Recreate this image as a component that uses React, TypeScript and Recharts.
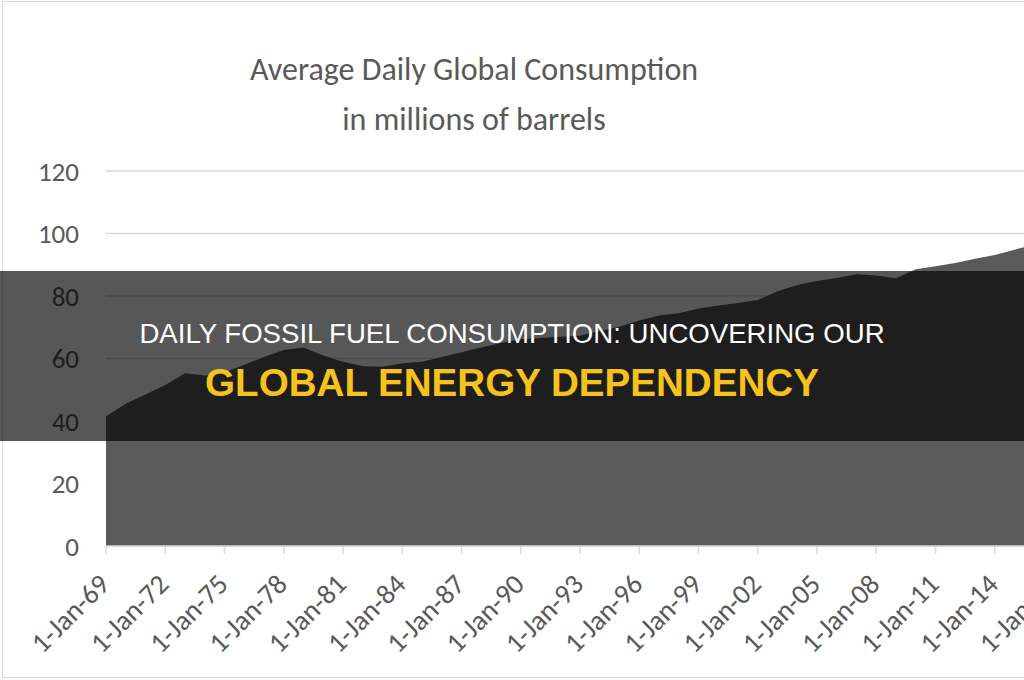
import React from 'react';
import { AreaChart, Area, XAxis, YAxis, CartesianGrid } from 'recharts';

// annual average daily consumption, millions of barrels
const years = [
  1969, 1970, 1971, 1972, 1973, 1974, 1975, 1976, 1977, 1978,
  1979, 1980, 1981, 1982, 1983, 1984, 1985, 1986, 1987, 1988,
  1989, 1990, 1991, 1992, 1993, 1994, 1995, 1996, 1997, 1998,
  1999, 2000, 2001, 2002, 2003, 2004, 2005, 2006, 2007, 2008,
  2009, 2010, 2011, 2012, 2013, 2014, 2015, 2016,
];
const consumption = [
  41.5, 45.5, 48.5, 51.5, 55.3, 54.6, 55.5, 58.0, 60.5, 62.7,
  63.5, 61.0, 59.0, 57.5, 57.4, 58.5, 59.0, 60.5, 62.0, 63.5,
  65.0, 66.2, 66.6, 67.0, 67.3, 68.8, 70.2, 72.2, 73.8, 74.5,
  76.0, 77.0, 77.8, 78.7, 81.5, 83.5, 84.8, 85.8, 87.0, 86.6,
  85.7, 88.6, 89.5, 90.6, 91.9, 93.1, 94.8, 96.5,
];
const xTicks = [1969, 1972, 1975, 1978, 1981, 1984, 1987, 1990, 1993, 1996, 1999, 2002, 2005, 2008, 2011, 2014, 2017];
const yTicks = [0, 20, 40, 60, 80, 100, 120];

const titleLines = ['Average Daily Global Consumption', 'in millions of barrels'];
const bannerTop = 'DAILY FOSSIL FUEL CONSUMPTION: UNCOVERING OUR';
const bannerBottom = 'GLOBAL ENERGY DEPENDENCY';

const data = years.map((y, i) => ({ year: y, value: consumption[i] }));

const FONT = 'Carlito, Calibri, Lato, sans-serif';
const GREY = '#595959';

const yearLabel = (y: number) => `1-Jan-${String(y % 100).padStart(2, '0')}`;

const XTick = (props: any) => {
  const { x, y, payload } = props;
  const ax = x + 5;
  const ay = y + 30;
  return (
    <text
      x={ax}
      y={ay}
      transform={`rotate(-45 ${ax} ${ay})`}
      textAnchor="end"
      fill={GREY}
      fontSize={28}
      fontFamily={FONT}
    >
      {yearLabel(payload.value)}
    </text>
  );
};

export default function App() {
  return (
    <div style={{ position: 'absolute', left: 0, top: 0, width: 1024, height: 680, overflow: 'hidden', background: '#fff' }}>
      {/* chart frame */}
      <div style={{ position: 'absolute', left: 2, top: 1, width: 1100, height: 675, border: '1.5px solid #d9d9d9' }} />
      <div style={{ position: 'absolute', left: 0, top: 0 }}>
        <AreaChart
          width={1060}
          height={680}
          data={data}
          margin={{ top: 171, right: 6, left: 0, bottom: 0 }}
        >
          <CartesianGrid vertical={false} stroke="#d9d9d9" strokeWidth={1.5} />
          <XAxis
            dataKey="year"
            type="number"
            domain={[1969, 2017]}
            ticks={xTicks}
            interval={0}
            height={134}
            stroke="#d9d9d9"
            strokeWidth={1.5}
            tickSize={8}
            tick={<XTick />}
          />
          <YAxis
            domain={[0, 120]}
            ticks={yTicks}
            width={106}
            axisLine={false}
            tickLine={false}
            tickSize={0}
            tickMargin={27}
            tick={{ fill: GREY, fontSize: 27, fontFamily: FONT }}
          />
          <Area
            type="linear"
            dataKey="value"
            stroke="none"
            fill="#5a5a5a"
            fillOpacity={1}
            isAnimationActive={false}
          />
        </AreaChart>
      </div>
      <svg width={1024} height={680} style={{ position: 'absolute', left: 0, top: 0, pointerEvents: 'none' }}>
        <text x={474} y={80} textAnchor="middle" fill={GREY} fontSize={32} fontFamily={FONT}>
          {titleLines[0]}
        </text>
        <text x={474} y={130} textAnchor="middle" fill={GREY} fontSize={32} fontFamily={FONT}>
          {titleLines[1]}
        </text>
        <rect x={0} y={271} width={1024} height={170} fill="rgba(0,0,0,0.66)" />
        <text x={512} y={343} textAnchor="middle" fill="#ffffff" fontSize={27.6} fontFamily="'Liberation Sans', Arial, sans-serif">
          {bannerTop}
        </text>
        <text x={512} y={396} textAnchor="middle" fill="#f6c21c" fontSize={38.6} fontWeight={700} fontFamily="'Liberation Sans', Arial, sans-serif">
          {bannerBottom}
        </text>
      </svg>
    </div>
  );
}
